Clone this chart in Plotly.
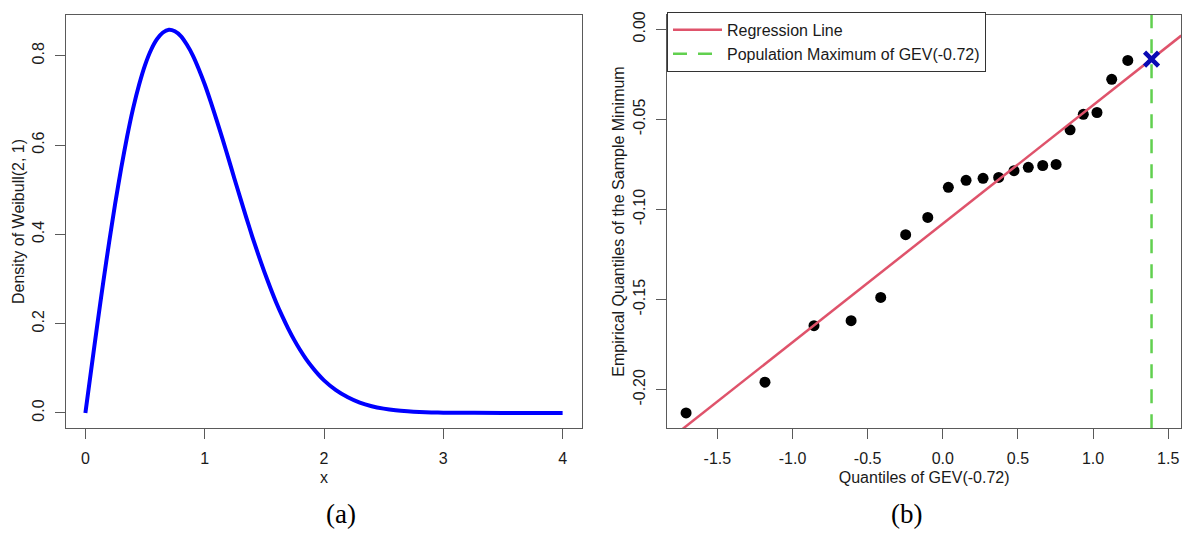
import numpy as np
import plotly.graph_objects as go

# ---- Panel (a): density of Weibull(2, 1) ----
density_x = [0.0, 0.05, 0.1, 0.15, 0.2, 0.25, 0.3, 0.35, 0.4, 0.45, 0.5, 0.55, 0.6,
             0.65, 0.7, 0.75, 0.8, 0.85, 0.9, 0.95, 1.0, 1.05, 1.1, 1.15, 1.2, 1.25,
             1.3, 1.35, 1.4, 1.45, 1.5, 1.55, 1.6, 1.65, 1.7, 1.75, 1.8, 1.85, 1.9,
             1.95, 2.0, 2.1, 2.2, 2.3, 2.4, 2.5, 2.6, 2.7, 2.8, 2.9, 3.0, 3.5, 4.0]
density_y = [0.0, 0.0998, 0.198, 0.2933, 0.384, 0.4697, 0.548, 0.6193, 0.682, 0.735,
             0.779, 0.8128, 0.837, 0.852, 0.858, 0.8547, 0.844, 0.8251, 0.801, 0.7704,
             0.736, 0.6972, 0.656, 0.6131, 0.569, 0.524, 0.480, 0.4365, 0.394, 0.3542,
             0.316, 0.2805, 0.247, 0.2168, 0.189, 0.1637, 0.141, 0.1207, 0.103, 0.087,
             0.073, 0.051, 0.035, 0.023, 0.015, 0.0097, 0.006, 0.0037, 0.0022, 0.0013,
             0.0007, 0.0, 0.0]

# ---- Panel (b): QQ plot of sample minima vs GEV(-0.72) quantiles ----
gev_quantiles = [-1.708, -1.183, -0.857, -0.610, -0.413, -0.247, -0.100, 0.037,
                 0.155, 0.268, 0.372, 0.474, 0.569, 0.665, 0.754, 0.847, 0.935,
                 1.026, 1.124, 1.231]
sample_quantiles = [-0.2129, -0.1958, -0.1645, -0.1617, -0.1488, -0.1140, -0.1044,
                    -0.0877, -0.0838, -0.0827, -0.0822, -0.0785, -0.0766, -0.0756,
                    -0.0750, -0.0558, -0.0472, -0.0462, -0.0278, -0.0173]
population_max = 1.389   # upper endpoint of GEV(-0.72)

left_xticks = [0, 1, 2, 3, 4]
left_yticks = [0.0, 0.2, 0.4, 0.6, 0.8]
right_xticks = [-1.5, -1.0, -0.5, 0.0, 0.5, 1.0, 1.5]
right_yticks = [0.00, -0.05, -0.10, -0.15, -0.20]

left_xrange = [-0.16, 4.16]
left_yrange = [-0.0343, 0.892]
right_xrange = [-1.835, 1.587]
right_yrange = [-0.2214, 0.0081]


def hyphen_labels(values, fmt):
    # plain ASCII hyphen for negative numbers
    return [format(v, fmt).replace("\u2212", "-") for v in values]


# least-squares regression line of sample quantiles on GEV quantiles
slope, intercept = np.polyfit(gev_quantiles, sample_quantiles, 1)
line_x = np.array(right_xrange)
line_y = intercept + slope * line_x
max_y = intercept + slope * population_max

W, H = 1184, 533
FONT = "Liberation Sans, Arial, Helvetica, sans-serif"
SERIF = "Liberation Serif, Times New Roman, serif"
AXIS_COLOR = "#5a5a5a"
TEXT_COLOR = "#1a1a1a"
X_COLOR = "#0A0AB4"

fig = go.Figure()

fig.add_trace(go.Scatter(
    x=density_x, y=density_y, mode="lines",
    line=dict(color="#0000FF", width=4, shape="spline", smoothing=0.6),
    showlegend=False, xaxis="x", yaxis="y"))

fig.add_trace(go.Scatter(
    x=gev_quantiles, y=sample_quantiles, mode="markers",
    marker=dict(color="black", size=11),
    showlegend=False, xaxis="x2", yaxis="y2"))

fig.add_trace(go.Scatter(
    x=line_x, y=line_y, mode="lines", name="Regression Line",
    line=dict(color="#DF536B", width=2.5),
    xaxis="x2", yaxis="y2"))

fig.add_trace(go.Scatter(
    x=[population_max, population_max], y=right_yrange, mode="lines",
    name="Population Maximum of GEV(-0.72)",
    line=dict(color="#61D04F", width=2.5, dash="14px,11px"),
    xaxis="x2", yaxis="y2"))

fig.add_trace(go.Scatter(
    x=[population_max], y=[max_y], mode="markers",
    marker=dict(symbol="x-thin-open", size=14, color=X_COLOR,
                line=dict(color=X_COLOR, width=4.5)),
    showlegend=False, xaxis="x2", yaxis="y2"))

ydom = [1 - 427.7 / H, 1 - 11.7 / H]
axis_common = dict(
    showline=True, linecolor=AXIS_COLOR, linewidth=1, mirror=True,
    ticks="outside", ticklen=10, tickcolor=AXIS_COLOR, tickwidth=1,
    showgrid=False, zeroline=False,
    tickfont=dict(family=FONT, size=16, color=TEXT_COLOR),
    title_font=dict(family=FONT, size=16, color=TEXT_COLOR),
)

fig.update_layout(
    width=W, height=H,
    margin=dict(l=0, r=0, t=0, b=0),
    paper_bgcolor="white", plot_bgcolor="white",
    font=dict(family=FONT, size=16, color=TEXT_COLOR),
    xaxis=dict(domain=[66.3 / W, 581.7 / W], range=left_xrange, tickvals=left_xticks,
               ticktext=[str(v) for v in left_xticks], ticklabelstandoff=6,
               title=dict(text="x", standoff=5), anchor="y", **axis_common),
    yaxis=dict(domain=ydom, range=left_yrange, tickvals=left_yticks,
               ticktext=hyphen_labels(left_yticks, ".1f"), ticklabelstandoff=5,
               tickangle=-90, title=dict(text="Density of Weibull(2, 1)", standoff=1),
               anchor="x", **axis_common),
    xaxis2=dict(domain=[667 / W, 1181.3 / W], range=right_xrange, tickvals=right_xticks,
                ticktext=hyphen_labels(right_xticks, ".1f"), ticklabelstandoff=6,
                title=dict(text="Quantiles of GEV(-0.72)", standoff=5),
                anchor="y2", **axis_common),
    yaxis2=dict(domain=ydom, range=right_yrange, tickvals=right_yticks,
                ticktext=hyphen_labels(right_yticks, ".2f"), ticklabelstandoff=5,
                tickangle=-90,
                title=dict(text="Empirical Quantiles of the Sample Minimum", standoff=1),
                anchor="x2", **axis_common),
    legend=dict(x=667 / W, y=1 - 9 / H, xanchor="left", yanchor="top",
                bgcolor="white", bordercolor="#333333", borderwidth=1,
                itemwidth=49,
                font=dict(family=FONT, size=16, color=TEXT_COLOR)),
    annotations=[
        dict(text="(a)", x=(66.3 + 581.7) / 2 / W, y=0, yanchor="bottom", yshift=2,
             xref="paper", yref="paper", showarrow=False,
             font=dict(family=SERIF, size=27, color="black")),
        dict(text="(b)", x=(667 + 1181.3) / 2 / W, y=0, yanchor="bottom", yshift=2,
             xref="paper", yref="paper", showarrow=False,
             font=dict(family=SERIF, size=27, color="black")),
    ],
)

fig.write_html("out.html")
